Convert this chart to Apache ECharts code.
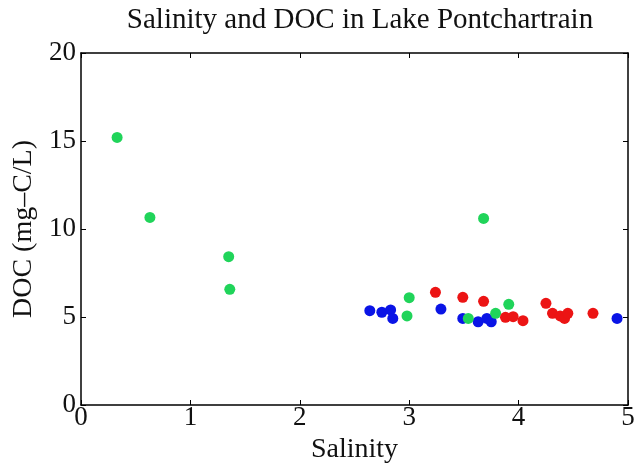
<!DOCTYPE html>
<html>
<head>
<meta charset="utf-8">
<script src="https://cdn.jsdelivr.net/npm/echarts@6/dist/echarts.min.js"></script>
<style>
html,body{margin:0;padding:0;background:#fff;}
#chart{width:638px;height:473px;}
</style>
</head>
<body>
<div id="chart"></div>
<script>
// Data
var titleText = 'Salinity and DOC in Lake Pontchartrain';
var xName = 'Salinity';
var yName = 'DOC (mg\u2013C/L)';

var greenSal = [0.33, 0.63, 1.35, 1.36, 3.68, 3.00, 2.98, 3.54, 3.79, 3.91];
var greenDoc = [15.2, 10.66, 8.43, 6.57, 10.6, 6.10, 5.06, 4.92, 5.21, 5.72];

var blueSal = [2.64, 2.75, 2.83, 2.85, 3.29, 3.49, 3.63, 3.71, 3.75, 4.90];
var blueDoc = [5.36, 5.27, 5.40, 4.92, 5.45, 4.92, 4.73, 4.92, 4.73, 4.92];

var redSal = [3.24, 3.49, 3.68, 3.88, 3.95, 4.04, 4.25, 4.31, 4.38, 4.42, 4.45, 4.68];
var redDoc = [6.40, 6.12, 5.89, 4.98, 5.02, 4.79, 5.78, 5.21, 5.06, 4.92, 5.21, 5.21];

var xTicks = [0, 1, 2, 3, 4, 5];
var yTicks = [0, 5, 10, 15, 20];

function pairs(xs, ys) {
  return xs.map(function (x, i) { return [x, ys[i]]; });
}

var FONT = 'Liberation Serif';
var axisLineStyle = { color: '#000', width: 1.5 };
var tickStyle = { show: true, inside: true, length: 5, lineStyle: { color: '#000', width: 1 } };

var chart = echarts.init(document.getElementById('chart'), null, { renderer: 'canvas' });
chart.setOption({
  backgroundColor: '#fff',
  animation: false,
  title: {
    text: titleText,
    left: 355,
    top: 1,
    textAlign: 'center',
    textStyle: { fontFamily: FONT, fontSize: 29, fontWeight: 'normal', color: '#111' }
  },
  grid: { left: 81, right: 10, top: 53, bottom: 68, containLabel: false },
  xAxis: [
    {
      type: 'value', min: xTicks[0], max: xTicks[xTicks.length - 1], interval: 1,
      position: 'bottom',
      axisLine: { show: true, onZero: false, lineStyle: axisLineStyle },
      axisTick: tickStyle,
      splitLine: { show: false },
      axisLabel: { fontFamily: FONT, fontSize: 27, color: '#111', margin: -1 },
      name: xName, nameLocation: 'middle', nameGap: 26,
      nameTextStyle: { fontFamily: FONT, fontSize: 28, color: '#111' }
    },
    {
      type: 'value', min: xTicks[0], max: xTicks[xTicks.length - 1], interval: 1,
      position: 'top',
      axisLine: { show: true, onZero: false, lineStyle: axisLineStyle },
      axisTick: tickStyle,
      splitLine: { show: false },
      axisLabel: { show: false }
    }
  ],
  yAxis: [
    {
      type: 'value', min: yTicks[0], max: yTicks[yTicks.length - 1], interval: 5,
      position: 'left',
      axisLine: { show: true, onZero: false, lineStyle: axisLineStyle },
      axisTick: tickStyle,
      splitLine: { show: false },
      axisLabel: { fontFamily: FONT, fontSize: 27, color: '#111', margin: 5 },
      name: yName, nameLocation: 'middle', nameGap: 43,
      nameTextStyle: { fontFamily: FONT, fontSize: 28, color: '#111' }
    },
    {
      type: 'value', min: yTicks[0], max: yTicks[yTicks.length - 1], interval: 5,
      position: 'right',
      axisLine: { show: true, onZero: false, lineStyle: axisLineStyle },
      axisTick: tickStyle,
      splitLine: { show: false },
      axisLabel: { show: false }
    }
  ],
  series: [
    {
      name: 'blue', type: 'scatter', xAxisIndex: 0, yAxisIndex: 0,
      data: pairs(blueSal, blueDoc), symbol: 'circle', symbolSize: 11,
      itemStyle: { color: '#0a14e6', opacity: 1 }
    },
    {
      name: 'green', type: 'scatter', xAxisIndex: 0, yAxisIndex: 0,
      data: pairs(greenSal, greenDoc), symbol: 'circle', symbolSize: 11,
      itemStyle: { color: '#20d45a', opacity: 1 }
    },
    {
      name: 'red', type: 'scatter', xAxisIndex: 0, yAxisIndex: 0,
      data: pairs(redSal, redDoc), symbol: 'circle', symbolSize: 11,
      itemStyle: { color: '#ec1414', opacity: 1 }
    }
  ]
});
</script>
</body>
</html>
